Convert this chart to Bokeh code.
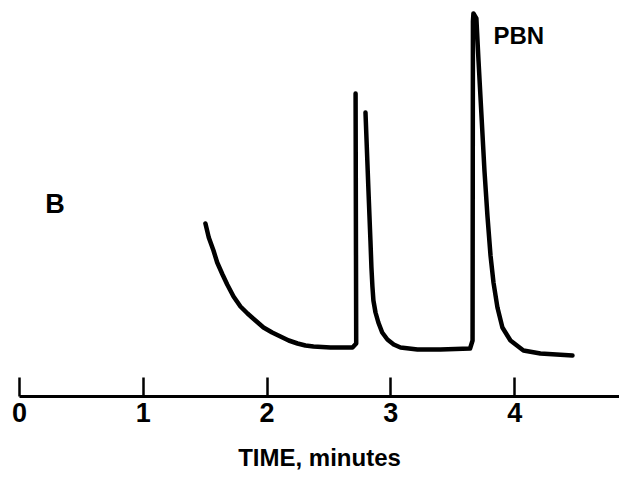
from bokeh.plotting import figure
from bokeh.models import FixedTicker, Range1d
from bokeh.core.properties import value
from bokeh.embed import file_html
from bokeh.resources import INLINE

# Trace 1: solvent tail and first (unlabelled) peak front, time in minutes, response in arbitrary units
t1 = [1.502, 1.529, 1.567, 1.597, 1.640, 1.678, 1.729, 1.785, 1.842, 1.906, 1.971, 2.041,
      2.108, 2.175, 2.246, 2.310, 2.375, 2.512, 2.690, 2.720, 2.715]
r1 = [173, 159, 146, 134, 122, 112, 100, 90, 83, 76, 69, 64,
      60, 56, 53, 51, 50, 49, 49, 53, 303]

# Trace 2: second peak tail, baseline, and the PBN peak
t2 = [2.795, 2.819, 2.835, 2.843, 2.851, 2.859, 2.876, 2.899, 2.930, 2.972, 3.023, 3.078,
      3.215, 3.400, 3.640, 3.660, 3.663, 3.667, 3.691, 3.708, 3.732, 3.756, 3.780, 3.805,
      3.829, 3.861, 3.901, 3.966, 4.071, 4.208, 4.467]
r2 = [284, 206, 156, 129, 110, 96, 84, 74, 64, 57, 52, 49,
      47, 47, 48, 56, 375, 383, 378, 336, 281, 226, 181, 141,
      114, 89, 69, 56, 46, 43, 41]

tick_values = [0, 1, 2, 3, 4]
x_label = "TIME, minutes"
panel_label = "B"
peak_label = "PBN"
panel_label_pos = (0.287, 193)
peak_label_pos = (3.829, 361)

FONT = "Liberation Sans"

p = figure(width=619, height=478, output_backend="svg", toolbar_location=None,
           x_range=Range1d(0, 4.847), y_range=Range1d(0, 396),
           min_border_left=19, min_border_right=0, min_border_top=0, min_border_bottom=82)
p.background_fill_color = "white"
p.border_fill_color = "white"
p.outline_line_color = None
p.xgrid.visible = False
p.ygrid.visible = False
p.yaxis.visible = False

ax = p.xaxis[0]
ax.ticker = FixedTicker(ticks=tick_values)
ax.axis_line_width = 3
ax.axis_line_color = "black"
ax.major_tick_line_width = 2.5
ax.major_tick_line_color = "black"
ax.major_tick_in = 19
ax.major_tick_out = 0
ax.minor_tick_line_color = None
ax.major_label_text_font = FONT
ax.major_label_text_font_style = "bold"
ax.major_label_text_font_size = "27px"
ax.major_label_text_color = "black"
ax.major_label_standoff = 6
ax.axis_label = x_label
ax.axis_label_text_font = FONT
ax.axis_label_text_font_style = "bold"
ax.axis_label_text_font_size = "24px"
ax.axis_label_text_color = "black"
ax.axis_label_standoff = 19

p.line(t1, r1, line_width=4.5, line_color="black", line_join="round", line_cap="round")
p.line(t2, r2, line_width=4.5, line_color="black", line_join="round", line_cap="round")

p.text(x=[panel_label_pos[0]], y=[panel_label_pos[1]], text=[panel_label],
       text_font=value(FONT), text_font_style="bold", text_font_size="27px",
       text_align="center", text_baseline="alphabetic", text_color="black")
p.text(x=[peak_label_pos[0]], y=[peak_label_pos[1]], text=[peak_label],
       text_font=value(FONT), text_font_style="bold", text_font_size="24px",
       text_align="left", text_baseline="alphabetic", text_color="black")

open("out.html", "w").write(file_html(p, INLINE))
